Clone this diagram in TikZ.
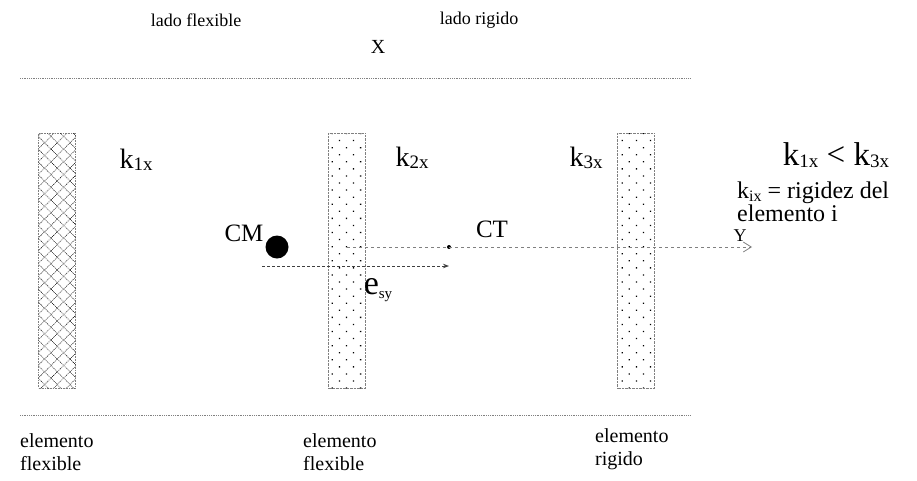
\documentclass[tikz,border=0pt]{standalone}
\usepackage{fontspec}
\setmainfont{Liberation Serif}
\usetikzlibrary{arrows.meta, positioning, patterns.meta}
\tikzstyle{lbl} = [inner sep=0pt, font=\fontsize{18}{20}\selectfont]
\tikzstyle{big} = [inner sep=0pt, font=\fontsize{25}{27}\selectfont]
\tikzstyle{klbl} = [inner sep=0pt, font=\fontsize{28}{30}\selectfont]
\tikzstyle{elem} = [inner sep=0pt, align=left, anchor=north west,
  font=\fontsize{20}{23}\selectfont]
\tikzstyle{wall} = [draw=gray, densely dotted, minimum width=37pt,
  minimum height=255pt, inner sep=0pt]
\tikzstyle{guide} = [gray, densely dotted, line width=0.8pt]
\tikzstyle{axis} = [gray, dashed, line width=0.8pt,
  -{Straight Barb[length=8pt, width=10pt]}]
\tikzstyle{ecc} = [black!75, densely dashed, line width=0.9pt,
  -{Stealth[length=6pt]}]
\newcommand{\klab}[1]{k\raisebox{-0.15ex}{\fontsize{19}{19}\selectfont #1x}}

\begin{document}
\begin{tikzpicture}[x=1pt, y=-1pt]
    \useasboundingbox (0,0) rectangle (917,480);
    % top labels
    \node[lbl] (flex) at (196,20) {lado flexible};
    \node[lbl] (rig) at (479,20) {lado rigido};
    \node[lbl, font=\fontsize{20}{22}\selectfont] (xlab) at (378,47) {X};
    \coordinate (tl) at (20,78);
    \coordinate (tr) at (690,78);
    \draw[guide] (tl) -- (tr);
    % the three elements
    \node[wall, pattern={Lines[angle=45, distance=9pt, line width=0.6pt]},
      postaction={pattern={Lines[angle=-45, distance=9pt, line width=0.6pt]}}]
      (c1) at (57,260.5) {};
    \node[wall, pattern={Dots[angle=45, distance=10pt, radius=0.9pt]}]
      (c2) at (347,260.5) {};
    \node[wall, pattern={Dots[angle=45, distance=10pt, radius=0.9pt]}]
      (c3) at (636,260.5) {};
    \node[klbl] (k1) at (136,160) {\klab{1}};
    \node[klbl] (k2) at (412,158) {\klab{2}};
    \node[klbl] (k3) at (586,158) {\klab{3}};
    \node[inner sep=0pt, font=\fontsize{33}{35}\selectfont] (rel) at (836,155)
      {\klab{1} < \klab{3}};
    \node[inner sep=0pt, align=left, anchor=north west,
      font=\fontsize{24}{23}\selectfont] (def) at (737,182)
      {k\raisebox{-0.2ex}{\fontsize{16}{16}\selectfont ix} = rigidez del\\ elemento i};
    % centres and axis
    \node[circle, fill, minimum size=23pt, inner sep=0pt] (cm) at (277,247) {};
    \node[big] (cmlbl) at (244,233) {CM};
    \node[circle, fill, minimum size=4pt, inner sep=0pt] (ct) at (449,247) {};
    \node[big] (ctlbl) at (492,229) {CT};
    \coordinate (ax0) at (347,247);
    \coordinate (ax1) at (752,247);
    \draw[axis] (ax0) -- (ax1);
    \node[lbl] (ylab) at (740,236) {Y};
    \coordinate (es0) at (262,266);
    \draw[ecc] (es0) -- (ct |- es0);
    \node[inner sep=0pt, font=\fontsize{34}{36}\selectfont] (eslbl) at (378,290)
      {e\raisebox{-0.3ex}{\fontsize{15}{15}\selectfont sy}};
    % bottom
    \coordinate (bl) at (20,415);
    \coordinate (br) at (690,415);
    \draw[guide] (bl) -- (br);
    \node[elem] (e1) at (20,433) {elemento\\ flexible};
    \node[elem] (e2) at (303,433) {elemento\\ flexible};
    \node[elem] (e3) at (595,428) {elemento\\ rigido};
  \end{tikzpicture}
\end{document}
